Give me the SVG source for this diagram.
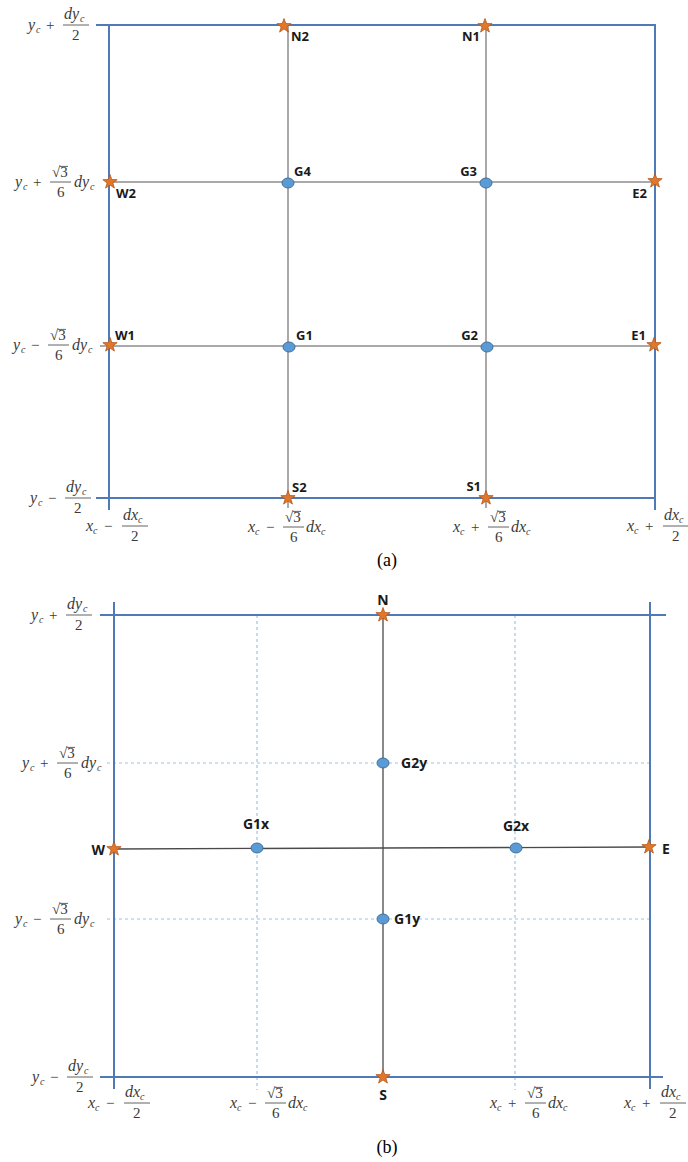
<svg xmlns="http://www.w3.org/2000/svg" xmlns:xlink="http://www.w3.org/1999/xlink" width="688" height="1162" viewBox="0 0 688 1162">
<style>
.m{font-family:"Liberation Serif",serif;font-style:italic;font-size:16px;fill:#3a3a3a}
.s{font-family:"Liberation Serif",serif;font-style:italic;font-size:10px;fill:#3a3a3a}
.n{font-family:"Liberation Serif",serif;font-size:15px;fill:#3a3a3a}
.lbl{font-family:"Open Sans","Liberation Sans",sans-serif;font-weight:bold;font-size:13px;fill:#1a1a1a}
.lblb{font-family:"Open Sans","Liberation Sans",sans-serif;font-weight:bold;font-size:14px;fill:#1a1a1a}
.cap{font-family:"Liberation Serif",serif;font-size:18px;fill:#000}
.fb{stroke:#3a3a3a;stroke-width:0.8}
.box{stroke:#5079B8;stroke-width:2;fill:none}
.grid{stroke:#8C8C8C;stroke-width:1.5;fill:none}
.axis{stroke:#4a4a4a;stroke-width:1.3;fill:none}
.dash{stroke:#9DC3E6;stroke-width:1.2;stroke-dasharray:3,3;fill:none}
.star{fill:#E0782C;stroke:#B4561A;stroke-width:0.8}
.dot{fill:#5B9BD5;stroke:#41719C;stroke-width:1}
</style>
<defs>
<path id="star" d="M0,-7.5 L1.76,-2.43 L7.13,-2.32 L2.85,0.93 L4.41,6.07 L0,3 L-4.41,6.07 L-2.85,0.93 L-7.13,-2.32 L-1.76,-2.43 Z"/>
<g id="r3">
<text class="n" x="37" y="-5">√3</text>
<line class="fb" x1="44.8" y1="-15.6" x2="53" y2="-15.6"/>
<line class="fb" x1="35" y1="0" x2="56" y2="0"/>
<text class="n" x="42" y="15">6</text>
</g>
<g id="yPlusHalf">
<text class="m" x="0" y="5">y</text><text class="s" x="8" y="8">c</text>
<text class="n" x="18" y="5">+</text>
<text class="m" x="36" y="-6">dy</text><text class="s" x="52" y="-3">c</text>
<line class="fb" x1="35" y1="0" x2="61" y2="0"/>
<text class="n" x="44" y="15">2</text>
</g>
<g id="yMinusHalf">
<text class="m" x="0" y="5">y</text><text class="s" x="8" y="8">c</text>
<text class="n" x="18" y="5">−</text>
<text class="m" x="36" y="-6">dy</text><text class="s" x="52" y="-3">c</text>
<line class="fb" x1="35" y1="0" x2="61" y2="0"/>
<text class="n" x="44" y="15">2</text>
</g>
<g id="yPlusR3">
<text class="m" x="0" y="5">y</text><text class="s" x="8" y="8">c</text>
<text class="n" x="18" y="5">+</text>
<use xlink:href="#r3"/>
<text class="m" x="59" y="5">dy</text><text class="s" x="75" y="8">c</text>
</g>
<g id="yMinusR3">
<text class="m" x="0" y="5">y</text><text class="s" x="8" y="8">c</text>
<text class="n" x="18" y="5">−</text>
<use xlink:href="#r3"/>
<text class="m" x="59" y="5">dy</text><text class="s" x="75" y="8">c</text>
</g>
<g id="xMinusHalf">
<text class="m" x="0" y="5">x</text><text class="s" x="7" y="8">c</text>
<text class="n" x="18" y="5">−</text>
<text class="m" x="37" y="-6">dx</text><text class="s" x="52" y="-3">c</text>
<line class="fb" x1="36" y1="0" x2="62" y2="0"/>
<text class="n" x="45" y="15">2</text>
</g>
<g id="xPlusHalf">
<text class="m" x="0" y="5">x</text><text class="s" x="7" y="8">c</text>
<text class="n" x="18" y="5">+</text>
<text class="m" x="37" y="-6">dx</text><text class="s" x="52" y="-3">c</text>
<line class="fb" x1="36" y1="0" x2="62" y2="0"/>
<text class="n" x="45" y="15">2</text>
</g>
<g id="xMinusR3">
<text class="m" x="0" y="5">x</text><text class="s" x="7" y="8">c</text>
<text class="n" x="18" y="5">−</text>
<use xlink:href="#r3"/>
<text class="m" x="58" y="5">dx</text><text class="s" x="73" y="8">c</text>
</g>
<g id="xPlusR3">
<text class="m" x="0" y="5">x</text><text class="s" x="7" y="8">c</text>
<text class="n" x="18" y="5">+</text>
<use xlink:href="#r3"/>
<text class="m" x="58" y="5">dx</text><text class="s" x="73" y="8">c</text>
</g>
</defs>
<rect width="688" height="1162" fill="#fff"/>

<!-- ===== Panel (a) ===== -->
<g id="connectors-a">
<line class="grid" x1="288" y1="25" x2="288" y2="508"/>
<line class="grid" x1="486" y1="25" x2="486" y2="508"/>
<line class="grid" x1="109" y1="182" x2="655" y2="182"/>
<line class="grid" x1="100" y1="346" x2="655" y2="346"/>
<line class="box" x1="96" y1="25" x2="656" y2="25"/>
<line class="box" x1="109" y1="25" x2="109" y2="510"/>
<line class="box" x1="655" y1="25" x2="655" y2="510"/>
<line class="box" x1="96" y1="498" x2="656" y2="498"/>
</g>
<g id="axis-labels-a">
<use xlink:href="#yPlusHalf" x="28" y="25"/>
<use xlink:href="#yPlusR3" x="15" y="182"/>
<use xlink:href="#yMinusR3" x="13" y="345"/>
<use xlink:href="#yMinusHalf" x="30" y="498"/>
<use xlink:href="#xMinusHalf" x="86" y="526"/>
<use xlink:href="#xMinusR3" x="248" y="527"/>
<use xlink:href="#xPlusR3" x="453" y="527"/>
<use xlink:href="#xPlusHalf" x="627" y="526"/>
</g>
<g id="N2"><use xlink:href="#star" class="star" x="284" y="26"/><text class="lbl" x="291" y="41">N2</text></g>
<g id="N1"><use xlink:href="#star" class="star" x="485" y="26"/><text class="lbl" x="480" y="41" text-anchor="end">N1</text></g>
<g id="W2"><use xlink:href="#star" class="star" x="110" y="182"/><text class="lbl" x="116" y="198">W2</text></g>
<g id="E2"><use xlink:href="#star" class="star" x="655" y="181"/><text class="lbl" x="647" y="198" text-anchor="end">E2</text></g>
<g id="G4"><ellipse class="dot" cx="288" cy="183" rx="6" ry="5"/><text class="lbl" x="294" y="176">G4</text></g>
<g id="G3"><ellipse class="dot" cx="486" cy="183" rx="6" ry="5"/><text class="lbl" x="477" y="176" text-anchor="end">G3</text></g>
<g id="W1"><use xlink:href="#star" class="star" x="110" y="345"/><text class="lbl" x="115" y="340">W1</text></g>
<g id="E1"><use xlink:href="#star" class="star" x="654" y="345"/><text class="lbl" x="646" y="340" text-anchor="end">E1</text></g>
<g id="G1"><ellipse class="dot" cx="289" cy="347" rx="6" ry="5"/><text class="lbl" x="296" y="340">G1</text></g>
<g id="G2"><ellipse class="dot" cx="487" cy="347" rx="6" ry="5"/><text class="lbl" x="478" y="340" text-anchor="end">G2</text></g>
<g id="S2"><use xlink:href="#star" class="star" x="288" y="498"/><text class="lbl" x="292" y="492">S2</text></g>
<g id="S1"><use xlink:href="#star" class="star" x="486" y="498"/><text class="lbl" x="481" y="491" text-anchor="end">S1</text></g>
<text class="cap" x="387" y="566" text-anchor="middle">(a)</text>

<!-- ===== Panel (b) ===== -->
<g id="connectors-b">
<line class="dash" x1="257" y1="615" x2="257" y2="1090"/>
<line class="dash" x1="515" y1="615" x2="515" y2="1090"/>
<line class="dash" x1="107" y1="763" x2="653" y2="763"/>
<line class="dash" x1="107" y1="919" x2="653" y2="919"/>
<line class="axis" x1="383" y1="615" x2="383" y2="1077"/>
<line class="axis" x1="114" y1="849" x2="650" y2="847"/>
<line class="box" x1="100" y1="615" x2="666" y2="615"/>
<line class="box" x1="114" y1="602" x2="114" y2="1089"/>
<line class="box" x1="650" y1="602" x2="650" y2="1089"/>
<line class="box" x1="100" y1="1077" x2="663" y2="1077"/>
</g>
<g id="axis-labels-b">
<use xlink:href="#yPlusHalf" x="31" y="615"/>
<use xlink:href="#yPlusR3" x="22" y="763"/>
<use xlink:href="#yMinusR3" x="15" y="919"/>
<use xlink:href="#yMinusHalf" x="32" y="1077"/>
<use xlink:href="#xMinusHalf" x="88" y="1103"/>
<use xlink:href="#xMinusR3" x="230" y="1103"/>
<use xlink:href="#xPlusR3" x="490" y="1103"/>
<use xlink:href="#xPlusHalf" x="624" y="1103"/>
</g>
<g id="N"><use xlink:href="#star" class="star" x="383" y="615"/><text class="lblb" x="383" y="605" text-anchor="middle">N</text></g>
<g id="S"><use xlink:href="#star" class="star" x="383" y="1077"/><text class="lblb" x="383" y="1100" text-anchor="middle">S</text></g>
<g id="W"><use xlink:href="#star" class="star" x="114" y="849"/><text class="lblb" x="105" y="855" text-anchor="end">W</text></g>
<g id="E"><use xlink:href="#star" class="star" x="649" y="847"/><text class="lblb" x="662" y="854">E</text></g>
<g id="G2y"><ellipse class="dot" cx="383" cy="763" rx="6" ry="5"/><text class="lblb" x="401" y="768">G2y</text></g>
<g id="G1y"><ellipse class="dot" cx="383" cy="919" rx="6" ry="5"/><text class="lblb" x="394" y="924">G1y</text></g>
<g id="G1x"><ellipse class="dot" cx="257" cy="848" rx="6" ry="5"/><text class="lblb" x="256" y="829" text-anchor="middle">G1x</text></g>
<g id="G2x"><ellipse class="dot" cx="516" cy="848" rx="6" ry="5"/><text class="lblb" x="516" y="831" text-anchor="middle">G2x</text></g>
<text class="cap" x="387" y="1153" text-anchor="middle">(b)</text>
</svg>
